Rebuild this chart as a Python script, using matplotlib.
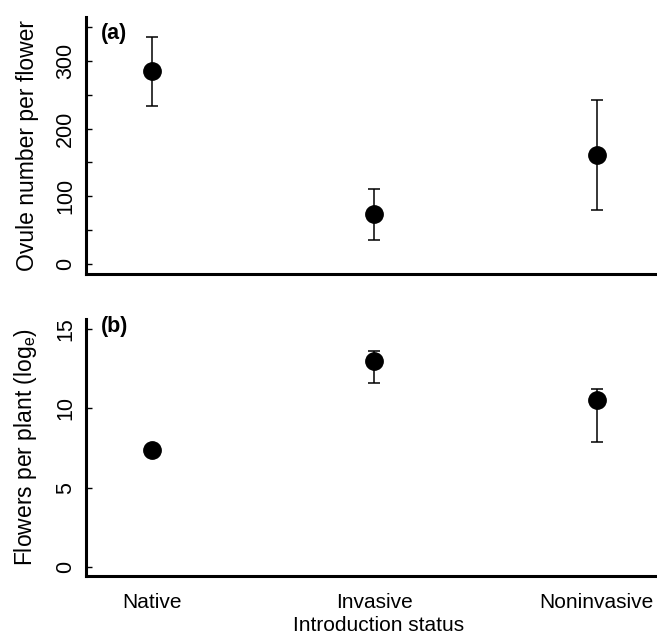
import matplotlib
matplotlib.use("Agg")
import matplotlib.pyplot as plt
import numpy as np

categories = ["Native", "Invasive", "Noninvasive"]
ovule_mean = [285, 73, 161]
ovule_low = [233, 35, 80]
ovule_high = [335, 111, 242]
flowers_mean = [7.35, 13.0, 10.55]
flowers_low = [7.0, 11.6, 7.9]
flowers_high = [7.55, 13.6, 11.2]

plt.rcParams['font.family'] = ['Liberation Sans', 'DejaVu Sans']

W, H = 657, 637
fig = plt.figure(figsize=(W/100, H/100), dpi=100)
axL = 86/W
axW = 1.0 - axL + 0.02
ax1 = fig.add_axes([axL, (H-274)/H, axW, (274-17)/H])
ax2 = fig.add_axes([axL, (H-576)/H, axW, (576-319)/H])

x = np.arange(1, len(categories)+1)

def draw(ax, m, lo, hi):
    m = np.array(m); lo = np.array(lo); hi = np.array(hi)
    ax.errorbar(x, m, yerr=[m-lo, hi-m], fmt='o', color='black', ms=12.5,
                elinewidth=1.1, capsize=4.5, capthick=1.1, ecolor='black')
    for s in ['top', 'right']:
        ax.spines[s].set_visible(False)
    for s in ['left', 'bottom']:
        ax.spines[s].set_linewidth(2.2)
    ax.set_xlim(0.705, 3.33)
    ax.tick_params(axis='y', direction='in', length=4, width=1, labelsize=15.5,
                   pad=7, labelrotation=90)
    ax.tick_params(axis='x', length=0, labelsize=15, pad=12)

draw(ax1, ovule_mean, ovule_low, ovule_high)
ax1.set_ylim(-15, 365)
ax1.set_yticks([0, 100, 200, 300])
ax1.set_yticks([50, 150, 250, 350], minor=True)
ax1.tick_params(axis='y', which='minor', direction='in', length=4, width=1)
ax1.set_xticks(x)
ax1.set_xticklabels([])
ax1.set_ylabel("Ovule number per flower", fontsize=16.5, labelpad=12)
ax1.text(0.025, 0.935, "(a)", transform=ax1.transAxes, fontsize=15.5,
         fontweight='bold', va='center', ha='left')

draw(ax2, flowers_mean, flowers_low, flowers_high)
ax2.set_ylim(-0.57, 15.64)
ax2.set_yticks([0, 5, 10, 15])
ax2.set_xticks(x)
ax2.set_xticklabels(categories)
ax2.set_ylabel("Flowers per plant (log$_\\mathregular{e}$)", fontsize=16.5, labelpad=12)
ax2.set_xlabel("Introduction status", fontsize=15, labelpad=3)
ax2.text(0.025, 0.97, "(b)", transform=ax2.transAxes, fontsize=15.5,
         fontweight='bold', va='center', ha='left')

for ax in (ax1, ax2):
    for lab in ax.get_yticklabels():
        lab.set_rotation(90)
        lab.set_va('center')

fig.savefig("out.png", dpi=100)
